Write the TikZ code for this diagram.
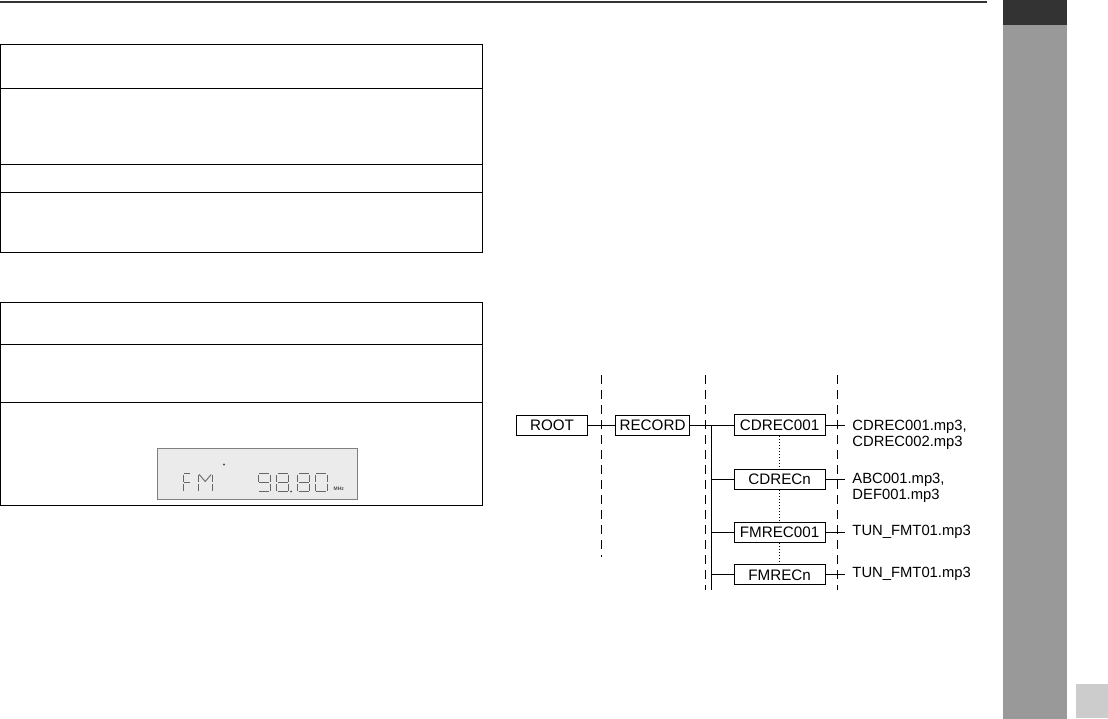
\documentclass[tikz,border=0pt]{standalone}
\usepackage{fontspec}
\setmainfont{Liberation Sans}
\usetikzlibrary{positioning}

\begin{document}
\begin{tikzpicture}[x=1pt, y=-1pt, line width=0.9pt,
    folder/.style={draw, minimum height=20pt, inner sep=0pt, font=\fontsize{15.2}{16}\selectfont},
    mpfile/.style={anchor=west, align=left, inner xsep=7pt, inner ysep=0pt, font=\fontsize{14.8}{15.7}\selectfont},
    guide/.style={dash pattern=on 9pt off 6pt},
    lcdseg/.style={draw=black!60, line width=0.9pt},
    lcddigit/.pic={
        \coordinate (sa1) at (1,0);   \coordinate (sa2) at (11,0);
        \coordinate (sb1) at (12,1);  \coordinate (sb2) at (12,8);
        \coordinate (sc1) at (12,10); \coordinate (sc2) at (12,17);
        \coordinate (sd1) at (1,18);  \coordinate (sd2) at (11,18);
        \coordinate (se1) at (0,10);  \coordinate (se2) at (0,17);
        \coordinate (sf1) at (0,1);   \coordinate (sf2) at (0,8);
        \coordinate (sg1) at (1,9);   \coordinate (sg2) at (11,9);
        \coordinate (sh1) at (1,1);   \coordinate (sh2) at (6,8);
        \coordinate (si1) at (11,1);  \coordinate (si2) at (6,8);
        \foreach \s in {#1} \draw[lcdseg] (s\s1) -- (s\s2);
    }]
    \useasboundingbox (0,0) rectangle (1108,719);

    % page furniture
    \draw[line width=2pt, black!80] (0,1.8) -- (987,1.8);
    \fill[black!40] (1003,0) rectangle (1067,719);
    \fill[black!80] (1003,0) rectangle (1067,25);
    \fill[black!20] (1076,684) rectangle (1108,718);

    % tables
    \draw (0.6,44) rectangle (482.7,252.3);
    \draw (0.6,88.3) -- (482.7,88.3);
    \draw (0.6,164.3) -- (482.7,164.3);
    \draw (0.6,192.3) -- (482.7,192.3);
    \draw (0.6,302.3) rectangle (482.7,505.7);
    \draw (0.6,344.3) -- (482.7,344.3);
    \draw (0.6,402.3) -- (482.7,402.3);

    % display
    \draw[draw=black!50, fill=black!8, line width=0.7pt] (157,448.3) rectangle (357.3,499);
    \pic[xscale=0.62] at (183.3,473.5) {lcddigit={a,f,e,g}};
    \pic[xscale=1.2] at (198,473.5) {lcddigit={f,e,b,c,h,i}};
    \fill[black!70] (224,464.5) circle (1.2);
    \pic at (258,473.5) {lcddigit={a,b,c,d,f,g}};
    \pic at (276.5,473.5) {lcddigit={a,b,c,d,e,f,g}};
    \fill[black!70] (291,491.5) circle (1);
    \pic at (297.5,473.5) {lcddigit={a,b,c,d,e,f,g}};
    \pic at (315,473.5) {lcddigit={a,b,c,d,e,f}};
    \node[font=\fontsize{5}{6}\selectfont\bfseries, text=black!70, inner sep=0pt] (mhz) at (338.8,488.5) {MHz};

    % folder tree
    \coordinate (gA1) at (601,375);   \coordinate (gA2) at (601,557);
    \coordinate (gB1) at (705.7,375); \coordinate (gB2) at (705.7,590);
    \coordinate (gC1) at (837.7,375); \coordinate (gC2) at (837.7,590);
    \draw[guide] (gA1) -- (gA2);
    \draw[guide] (gB1) -- (gB2);
    \draw[guide] (gC1) -- (gC2);

    \node[folder, minimum width=70.6pt] (root) at (552,425) {ROOT};
    \node[folder, minimum width=74.7pt, right=27pt of root] (record) {RECORD};
    \node[folder, minimum width=91pt, minimum height=21.5pt, right=43.3pt of record] (cdone) {CDREC001};
    \node[folder, minimum width=91pt, below=33pt of cdone] (cdn) {CDRECn};
    \node[folder, minimum width=91pt, below=31.7pt of cdn] (fmone) {FMREC001};
    \node[folder, minimum width=91pt, below=21.7pt of fmone] (fmn) {FMRECn};

    \node[mpfile] (cdonefiles) at (845,434.8) {CDREC001.mp3,\\CDREC002.mp3};
    \node[mpfile] (cdnfiles) at (845,487.6) {ABC001.mp3,\\DEF001.mp3};
    \node[mpfile] (fmonefiles) at (845,531.6) {TUN\_FMT01.mp3};
    \node[mpfile] (fmnfiles) at (845,573.4) {TUN\_FMT01.mp3};

    \coordinate (trunk) at (711.7,425);
    \coordinate (trunkend) at (711.7,590);
    \draw (root) -- (record);
    \draw (record) -- (cdone);
    \draw (trunk) -- (trunkend);
    \draw (trunk |- cdn.west) -- (cdn.west);
    \draw (trunk |- fmone.west) -- (fmone.west);
    \draw (trunk |- fmn.west) -- (fmn.west);
    \draw[dash pattern=on 1pt off 2pt] (cdone.south) -- (cdn.north);
    \draw[dash pattern=on 1pt off 2pt] (cdn.south) -- (fmone.north);
    \draw[dash pattern=on 1pt off 2pt] (fmone.south) -- (fmn.north);

    \draw (cdone.east) -- (cdone.east -| cdonefiles.west);
    \draw (cdn.east) -- (cdn.east -| cdnfiles.west);
    \draw (fmone.east) -- (fmone.east -| fmonefiles.west);
    \draw (fmn.east) -- (fmn.east -| fmnfiles.west);
\end{tikzpicture}
\end{document}
